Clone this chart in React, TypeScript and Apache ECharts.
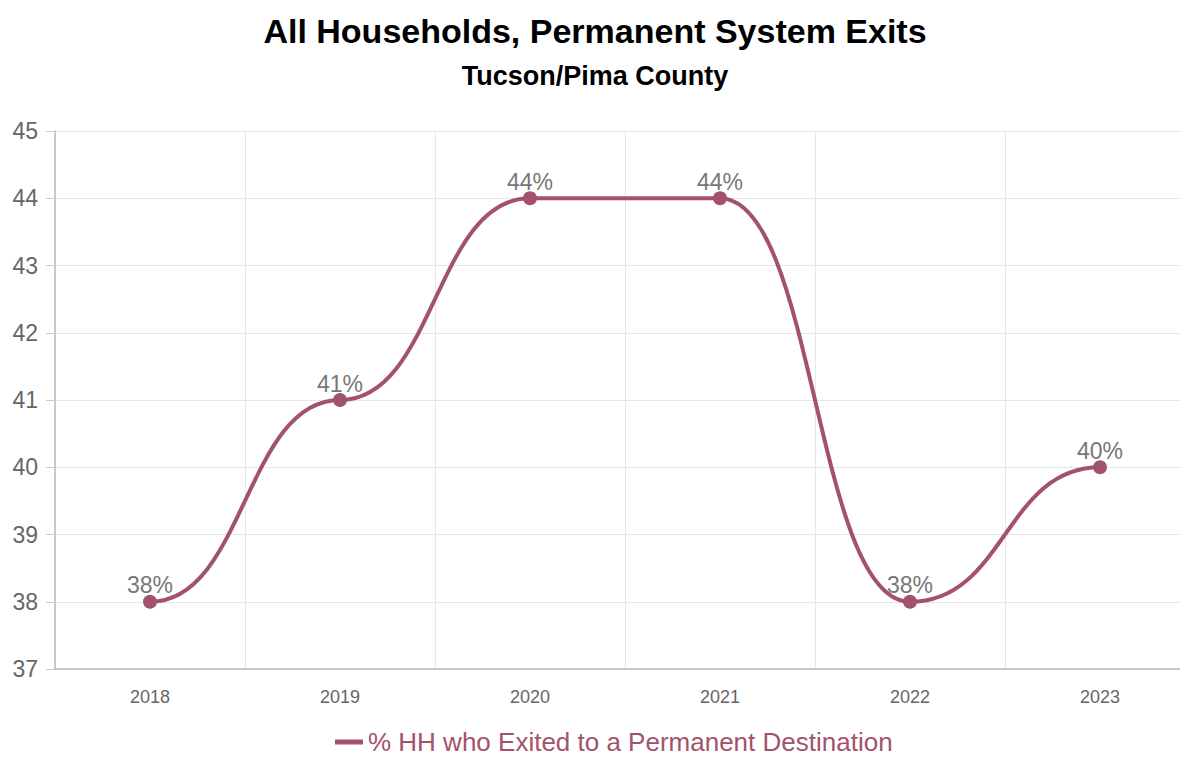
import React, { useEffect, useRef } from "react";
import * as echarts from "echarts";

const years = ["2018", "2019", "2020", "2021", "2022", "2023"];
const exitPct = [38, 41, 44, 44, 38, 40];
const seriesName = "% HH who Exited to a Permanent Destination";
const titleText = "All Households, Permanent System Exits";
const subtitleText = "Tucson/Pima County";

const LINE = "#a3526d";
const FONT = "'Liberation Sans', Arial, sans-serif";

export default function App() {
  const ref = useRef<HTMLDivElement>(null);
  useEffect(() => {
    if (!ref.current) return;
    const chart = echarts.init(ref.current, null, { renderer: "svg" });
    chart.setOption({
      animation: false,
      textStyle: { fontFamily: FONT },
      title: [
        {
          text: titleText,
          left: 590,
          textAlign: "center",
          top: 9,
          textStyle: { fontSize: 34, fontWeight: "bold", color: "#000", fontFamily: FONT },
        },
        {
          text: subtitleText,
          left: 590,
          textAlign: "center",
          top: 57,
          textStyle: { fontSize: 27, fontWeight: "bold", color: "#000", fontFamily: FONT },
        },
      ],
      legend: {
        top: 729,
        left: 335,
        padding: 0,
        icon: "rect",
        itemWidth: 28,
        itemHeight: 5,
        itemGap: 10,
        itemStyle: { color: LINE },
        textStyle: { fontSize: 26, color: LINE, fontFamily: FONT },
        data: [seriesName],
      },
      grid: { left: 55, right: 0, top: 131, bottom: 90, containLabel: false },
      xAxis: {
        type: "category",
        data: years,
        boundaryGap: true,
        axisLine: { lineStyle: { color: "#bbb", width: 1.5 } },
        axisTick: { alignWithLabel: true, length: 7, lineStyle: { color: "#999" } },
        axisLabel: { fontSize: 18, color: "#666", margin: 19, fontFamily: FONT },
        splitLine: { show: true, lineStyle: { color: "#e6e6e6" } },
      },
      yAxis: {
        type: "value",
        min: 37,
        max: 45,
        interval: 1,
        axisLine: { show: true, lineStyle: { color: "#bbb", width: 1.5 } },
        axisTick: { show: true, length: 9, lineStyle: { color: "#ccc" } },
        axisLabel: { fontSize: 23, color: "#666", margin: 17, fontFamily: FONT },
        splitLine: { lineStyle: { color: "#e6e6e6" } },
      },
      series: [
        {
          name: "curve",
          type: "custom",
          z: 1,
          silent: true,
          data: exitPct.map((v, i) => [i, v]),
          renderItem: (params: any, api: any) => {
            const i = params.dataIndex;
            if (i >= exitPct.length - 1) return null;
            const p0 = api.coord([i, exitPct[i]]);
            const p1 = api.coord([i + 1, exitPct[i + 1]]);
            const dx = (p1[0] - p0[0]) * 0.5;
            return {
              type: "bezierCurve",
              shape: {
                x1: p0[0],
                y1: p0[1],
                x2: p1[0],
                y2: p1[1],
                cpx1: p0[0] + dx,
                cpy1: p0[1],
                cpx2: p1[0] - dx,
                cpy2: p1[1],
              },
              style: { stroke: LINE, lineWidth: 4, fill: "none" },
            };
          },
        },
        {
          name: seriesName,
          type: "line",
          z: 3,
          data: exitPct,
          symbol: "circle",
          symbolSize: 14,
          lineStyle: { color: LINE, width: 0, opacity: 0 },
          itemStyle: { color: LINE },
          label: {
            show: true,
            position: "top",
            distance: 0,
            offset: [0, 2],
            formatter: "{c}%",
            fontSize: 23,
            color: "#777",
            fontFamily: FONT,
          },
        },
      ],
    });
    return () => chart.dispose();
  }, []);
  return (
    <div style={{ position: "fixed", left: 0, top: 0, width: 1180, height: 759, overflow: "hidden", background: "#fff" }}>
      <div ref={ref} style={{ width: 1195, height: 759 }} />
    </div>
  );
}
